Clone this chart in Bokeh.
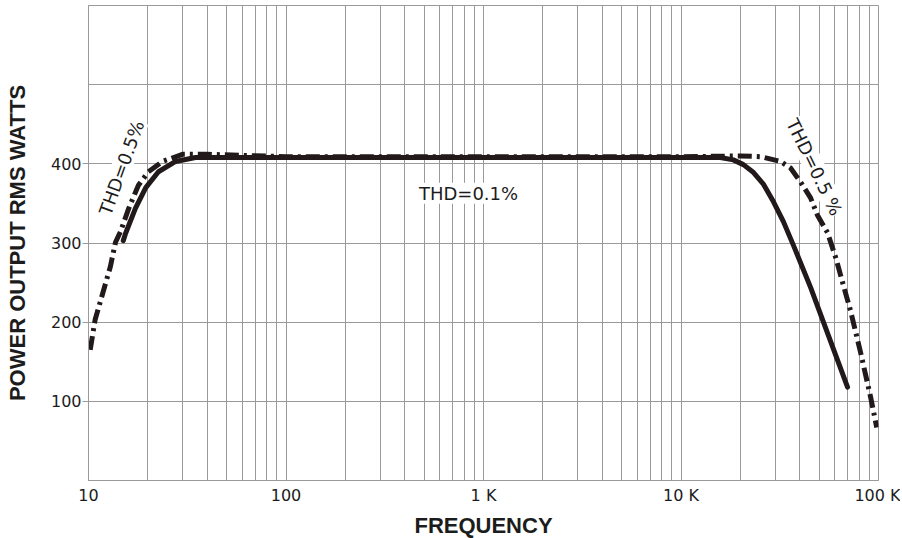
from bokeh.plotting import figure
from bokeh.models import FixedTicker, Label, Range1d
from bokeh.embed import file_html
from bokeh.resources import INLINE

# ---- data ----
thd01_freq = [15.0, 15.4, 17.3, 19.5, 22.6, 27.6, 34.8, 100, 1000, 10000,
              15800, 18400, 20700, 23300, 26200, 29400, 33000, 37100,
              45300, 69700]
thd01_power = [303, 312, 344, 370, 390, 403, 408, 408, 408, 408,
               408, 405, 399, 389, 374, 352, 327, 297,
               244, 118]

thd05_freq = [10.2, 10.8, 12.9, 13.7, 14.5, 16.0, 17.9, 20.1, 23.7, 29.9,
              40.1, 100, 1000, 10000, 20000, 25300, 31900, 35800, 40300,
              45300, 49100, 55200, 61000, 66500, 72100, 81100, 91100, 98000]
thd05_power = [165, 203, 270, 301, 314, 344, 373, 390, 403, 412,
               412, 409, 409, 409, 410, 409, 403, 395, 377,
               357, 335, 313, 280, 246, 215, 162, 106, 67]

x_tick_values = [10, 100, 1000, 10000, 100000]
x_tick_labels = ["10", "100", "1 K", "10 K", "100 K"]
x_grid_values = [m * 10 ** d for d in range(1, 5) for m in range(1, 10)] + [100000]
y_tick_values = [100, 200, 300, 400]
y_grid_values = [100, 200, 300, 400, 500, 600]

GRID = "#9a9a9a"
INK = "#221a1a"
TXT = "#1c1c1c"

p = figure(width=900, height=536, x_axis_type="log",
           x_range=Range1d(10, 100000), y_range=Range1d(0, 600),
           output_backend="svg", toolbar_location=None,
           min_border_left=88, min_border_right=22,
           min_border_top=5, min_border_bottom=56,
           frame_width=790, frame_height=475)
p.background_fill_color = "white"
p.border_fill_color = "white"
p.outline_line_color = GRID
p.outline_line_width = 1

# grids
p.xgrid.ticker = FixedTicker(ticks=x_grid_values)
p.ygrid.ticker = FixedTicker(ticks=y_grid_values)
p.xgrid.grid_line_color = GRID
p.ygrid.grid_line_color = GRID
p.xgrid.grid_line_width = 1
p.ygrid.grid_line_width = 1

# x axis
xa = p.xaxis[0]
xa.ticker = FixedTicker(ticks=x_tick_values)
xa.major_label_overrides = {v: s for v, s in zip(x_tick_values, x_tick_labels)}
xa.axis_line_color = GRID
xa.major_tick_line_color = None
xa.minor_tick_line_color = None
xa.major_tick_out = 0
xa.major_label_standoff = 5
xa.major_label_text_font = "DejaVu Sans"
xa.major_label_text_font_size = "16px"
xa.major_label_text_color = TXT
xa.axis_label = "FREQUENCY"
xa.axis_label_text_font = "Liberation Sans"
xa.axis_label_text_font_style = "bold"
xa.axis_label_text_font_size = "22px"
xa.axis_label_text_color = TXT
xa.axis_label_standoff = 5

# y axis
ya = p.yaxis[0]
ya.ticker = FixedTicker(ticks=y_tick_values)
ya.axis_line_color = GRID
ya.major_tick_line_color = GRID
ya.major_tick_out = 6
ya.major_tick_in = 0
ya.minor_tick_line_color = None
ya.major_label_standoff = 1
ya.major_label_text_font = "DejaVu Sans"
ya.major_label_text_font_size = "16px"
ya.major_label_text_color = TXT
ya.axis_label = "POWER OUTPUT RMS WATTS"
ya.axis_label_text_font = "Liberation Sans"
ya.axis_label_text_font_style = "bold"
ya.axis_label_text_font_size = "22px"
ya.axis_label_text_color = TXT
ya.axis_label_standoff = 18

# curves
p.line(thd05_freq, thd05_power, line_color=INK, line_width=5,
       line_dash="14 5 3 5", line_join="round")
p.line(thd01_freq, thd01_power, line_color=INK, line_width=5,
       line_join="round", line_cap="round")

# annotations
lab_kw = dict(x_units="data", y_units="data", text_align="center",
              text_baseline="middle", text_font="DejaVu Sans",
              text_font_size="18px", text_color=TXT,
              background_fill_color="white", angle_units="deg")
p.add_layout(Label(x=14.7, y=395, text="THD=0.5%", angle=70, **lab_kw))
p.add_layout(Label(x=840, y=363, text="THD=0.1%", angle=0, **lab_kw))
p.add_layout(Label(x=47400, y=396, text="THD=0.5 %", angle=-64, **lab_kw))

open("out.html", "w").write(file_html(p, INLINE))
